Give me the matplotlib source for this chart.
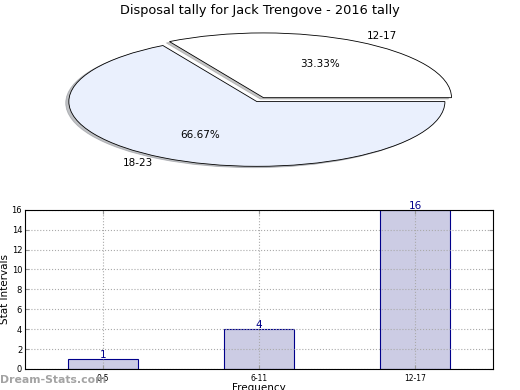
import matplotlib
matplotlib.use("Agg")
import matplotlib.pyplot as plt

title = "Disposal tally for Jack Trengove - 2016 tally"
pie_labels = ["12-17", "18-23"]
pie_values = [33.33, 66.67]
pie_colors = ["#ffffff", "#eaf0fd"]

bar_cats = ["0-5", "6-11", "12-17"]
bar_vals = [1, 4, 16]

fig = plt.figure(figsize=(5.2, 3.9), dpi=100)
fig.text(0.5, 0.972, title, ha="center", va="center", fontsize=9.3)

ax1 = fig.add_axes([0.042, 0.532, 0.904, 0.415])
wedges, texts, autotexts = ax1.pie(
    pie_values, labels=pie_labels, colors=pie_colors, explode=[0.07, 0.0],
    autopct="%1.2f%%", shadow={"ox": -0.012, "oy": -0.015, "shade": 0.45},
    startangle=0, counterclock=True,
    wedgeprops=dict(edgecolor="black", linewidth=0.6),
    textprops=dict(fontsize=7.5))
ax1.set_aspect("auto")
ax1.set_xlim(-1.25, 1.25)
ax1.set_ylim(-1.25, 1.25)

ax2 = fig.add_axes([0.048, 0.054, 0.9, 0.408])
x = list(range(len(bar_cats)))
bars = ax2.bar(x, bar_vals, width=0.45, color="#ccccE4", edgecolor="#00008b", linewidth=0.8)
for xi, v in zip(x, bar_vals):
    ax2.text(xi, v - 0.1, str(v), ha="center", va="bottom", color="#00008b", fontsize=7.5)
ax2.set_xlim(-0.5, 2.5)
ax2.set_ylim(0, 16)
ax2.set_xticks(x)
ax2.set_xticklabels(bar_cats, fontsize=5.5)
ax2.set_yticks(range(0, 17, 2))
ax2.tick_params(axis="y", labelsize=6, right=True, direction="in", color="#999999", length=3, pad=2)
ax2.tick_params(axis="x", top=True, direction="in", color="#999999", length=3)
ax2.grid(True, linestyle=":", color="#aaaaaa", linewidth=0.8)
ax2.set_ylabel("Stat Intervals", fontsize=7.5)
ax2.yaxis.set_label_coords(-0.031, 0.5)
ax2.set_xlabel("Frequency", fontsize=7.5, labelpad=0)

fig.text(0.0, 0.025, "Dream-Stats.com", ha="left", va="center", fontsize=7.8,
         color="#999999", fontweight="bold", alpha=0.9)

fig.savefig("out.png", dpi=100)
